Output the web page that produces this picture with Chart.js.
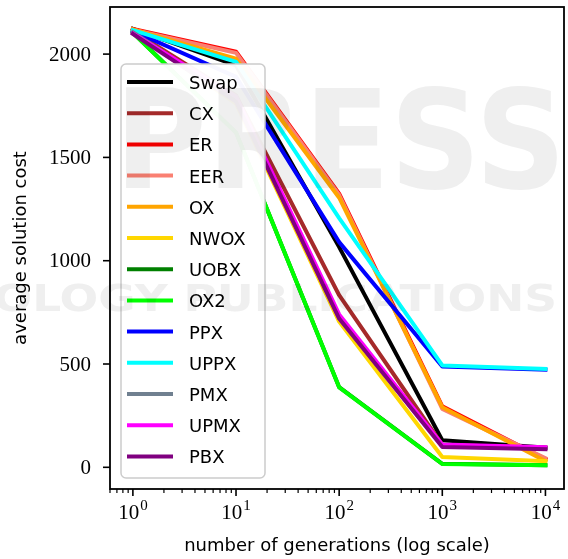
<!DOCTYPE html>
<html>
<head>
<meta charset="utf-8">
<script src="https://cdn.jsdelivr.net/npm/chart.js@4.4.1/dist/chart.umd.min.js"></script>
<style>
  html, body { margin: 0; padding: 0; background: #fff; }
  canvas { display: block; }
</style>
</head>
<body>
<canvas id="costChart" width="568" height="559"></canvas>
<script>
// generations (x, log scale)
const generations = [1, 10, 100, 1000, 10000];

const operatorNames = ['Swap', 'CX', 'ER', 'EER', 'OX', 'NWOX', 'UOBX', 'OX2', 'PPX', 'UPPX', 'PMX', 'UPMX', 'PBX'];
const operatorColors = ['#000000', '#a52a2a', '#ff0000', '#fa8072', '#ffa500', '#ffd700', '#008000',
                        '#00ff00', '#0000ff', '#00ffff', '#708090', '#ff00ff', '#800080'];

// average solution cost per operator
const swapCost = [2122, 1945, 1066, 131, 95];
const cxCost   = [2112, 1800, 833, 108, 95];
const erCost   = [2122, 2012, 1325, 295, 40];
const eerCost  = [2118, 2006, 1318, 283, 44];
const oxCost   = [2120, 1978, 1305, 291, 30];
const nwoxCost = [2108, 1760, 705, 50, 30];
const uobxCost = [2104, 1620, 388, 17, 10];
const ox2Cost  = [2102, 1620, 387, 16, 10];
const ppxCost  = [2112, 1890, 1090, 488, 473];
const uppxCost = [2116, 1962, 1206, 493, 476];
const pmxCost  = [2106, 1780, 722, 104, 92];
const upmxCost = [2100, 1795, 740, 110, 97];
const pbxCost  = [2098, 1770, 720, 98, 88];

const allCosts = [swapCost, cxCost, erCost, eerCost, oxCost, nwoxCost, uobxCost,
                  ox2Cost, ppxCost, uppxCost, pmxCost, upmxCost, pbxCost];

const yTickValues = [0, 500, 1000, 1500, 2000];
const xTickExponents = [0, 1, 2, 3, 4];

const SERIF = '"Liberation Serif", "DejaVu Serif", serif';
const SANS = '"DejaVu Sans", sans-serif';

function hline(ctx, x1, y1, x2, y2) {
  ctx.beginPath();
  ctx.moveTo(x1, y1);
  ctx.lineTo(x2, y2);
  ctx.stroke();
}

// faint publisher watermark lying over the figure
function drawWatermark(ctx) {
  ctx.save();
  ctx.globalCompositeOperation = 'multiply';
  ctx.fillStyle = 'rgb(239,239,239)';
  ctx.textAlign = 'right';
  ctx.textBaseline = 'alphabetic';

  ctx.save();
  ctx.translate(566, 188);
  ctx.scale(0.92, 1.0);
  ctx.font = 'bold 137px ' + SANS;
  ctx.fillText('PRESS', 0, 0);
  ctx.restore();

  ctx.save();
  ctx.translate(557, 311);
  ctx.scale(1.23, 1);
  ctx.font = 'bold 37px ' + SANS;
  ctx.fillText('TECHNOLOGY PUBLICATIONS', 0, 0);
  ctx.restore();

  ctx.restore();
}

// matplotlib-like box, ticks, tick labels and legend
const axesDecor = {
  id: 'axesDecor',
  afterDraw(chart) {
    const { ctx, chartArea: a, scales: { x, y } } = chart;
    ctx.save();
    ctx.strokeStyle = '#000';
    ctx.fillStyle = '#000';

    // y ticks + labels
    ctx.lineWidth = 1.6;
    ctx.font = '21px ' + SERIF;
    ctx.textAlign = 'right';
    ctx.textBaseline = 'middle';
    yTickValues.forEach(v => {
      const py = y.getPixelForValue(v);
      hline(ctx, a.left - 7, py, a.left, py);
      ctx.fillText(String(v), a.left - 19, py + 1);
    });

    // x ticks (major + minor)
    xTickExponents.concat([-1]).forEach(p => {
      for (let k = 1; k <= 9; k++) {
        const v = k * Math.pow(10, p);
        if (v < x.min || v > x.max) continue;
        const px = x.getPixelForValue(v);
        ctx.lineWidth = k === 1 ? 1.6 : 1.2;
        hline(ctx, px, a.bottom, px, a.bottom + (k === 1 ? 7 : 4));
      }
    });

    // x tick labels 10^p
    ctx.textAlign = 'left';
    ctx.textBaseline = 'alphabetic';
    xTickExponents.forEach(p => {
      const px = x.getPixelForValue(Math.pow(10, p));
      ctx.font = '21px ' + SERIF;
      const w1 = ctx.measureText('10').width;
      ctx.font = '15px ' + SERIF;
      const w2 = ctx.measureText(String(p)).width;
      const start = px - (w1 + w2 + 1) / 2;
      ctx.font = '21px ' + SERIF;
      ctx.fillText('10', start, a.bottom + 30);
      ctx.font = '15px ' + SERIF;
      ctx.fillText(String(p), start + w1 + 1, a.bottom + 21);
    });

    // frame
    ctx.lineWidth = 1.8;
    ctx.strokeRect(a.left, a.top, a.right - a.left, a.bottom - a.top);

    // legend
    const lx = a.left + 11, ly = a.top + 57, lw = 144, lh = 414, r = 5;
    ctx.beginPath();
    ctx.moveTo(lx + r, ly);
    ctx.arcTo(lx + lw, ly, lx + lw, ly + lh, r);
    ctx.arcTo(lx + lw, ly + lh, lx, ly + lh, r);
    ctx.arcTo(lx, ly + lh, lx, ly, r);
    ctx.arcTo(lx, ly, lx + lw, ly, r);
    ctx.closePath();
    ctx.fillStyle = 'rgba(255,255,255,0.97)';
    ctx.fill();
    ctx.strokeStyle = '#cccccc';
    ctx.lineWidth = 1.5;
    ctx.stroke();

    ctx.font = '18px ' + SANS;
    ctx.textBaseline = 'alphabetic';
    operatorNames.forEach((name, i) => {
      const rowY = ly + 18 + i * 31.2;
      ctx.strokeStyle = operatorColors[i];
      ctx.lineWidth = 4;
      hline(ctx, lx + 6, rowY, lx + 52, rowY);
      ctx.fillStyle = '#000';
      ctx.fillText(name, lx + 68, rowY + 7);
    });
    ctx.restore();

    drawWatermark(ctx);
  }
};

const datasets = operatorNames.map((name, i) => ({
  label: name,
  data: generations.map((g, j) => ({ x: g, y: allCosts[i][j] })),
  borderColor: operatorColors[i],
  backgroundColor: operatorColors[i],
  borderWidth: 4,
  pointRadius: 0,
  tension: 0,
  fill: false,
  borderJoinStyle: 'round',
  borderCapStyle: 'square',
  order: operatorNames.length - i
}));

new Chart(document.getElementById('costChart'), {
  type: 'line',
  data: { datasets },
  options: {
    responsive: false,
    animation: false,
    devicePixelRatio: 1,
    layout: { padding: { top: 7, right: 4, left: 0, bottom: 0 } },
    plugins: { legend: { display: false }, tooltip: { enabled: false } },
    scales: {
      x: {
        type: 'logarithmic',
        min: Math.pow(10, -0.19),
        max: Math.pow(10, 4.18),
        ticks: { display: false },
        grid: { display: false },
        border: { display: false },
        title: {
          display: true,
          text: 'number of generations (log scale)',
          color: '#000',
          font: { family: SANS, size: 18 },
          padding: { top: 0, bottom: 2 }
        },
        afterFit(s) { s.height = 70; }
      },
      y: {
        type: 'linear',
        min: -105,
        max: 2228,
        ticks: { display: false },
        grid: { display: false },
        border: { display: false },
        title: {
          display: true,
          text: 'average solution cost',
          color: '#000',
          font: { family: SANS, size: 18 },
          padding: { top: 11, bottom: 0 }
        },
        afterFit(s) { s.width = 110; }
      }
    }
  },
  plugins: [axesDecor]
});
</script>
</body>
</html>
